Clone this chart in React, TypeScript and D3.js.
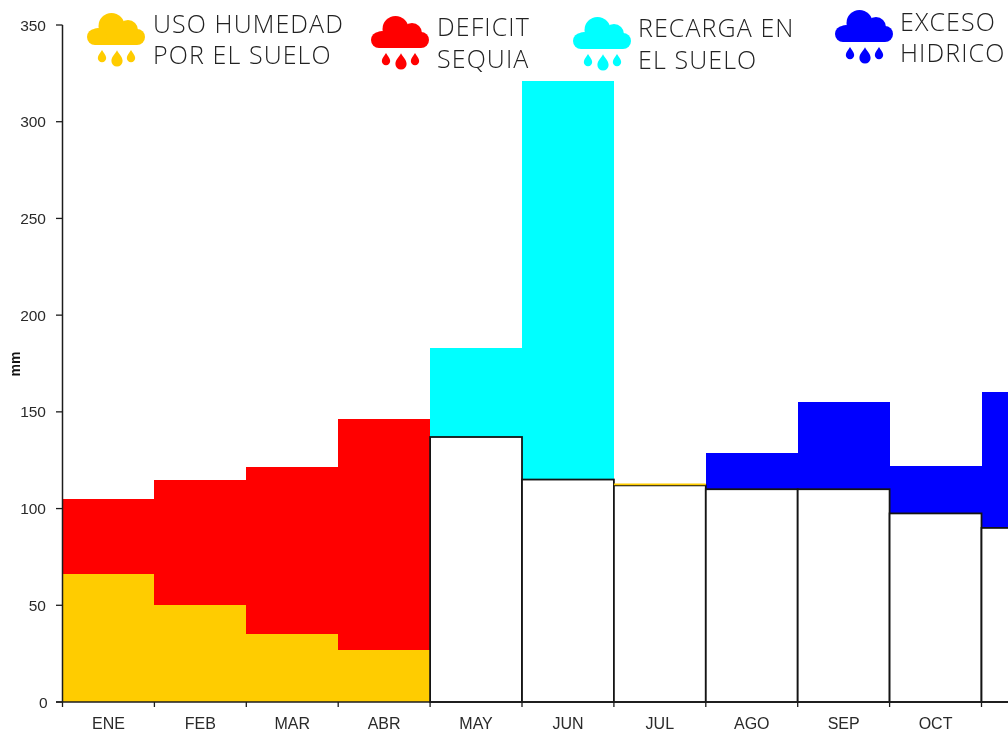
import React from "react";
import * as d3 from "d3";

const months = ["ENE", "FEB", "MAR", "ABR", "MAY", "JUN", "JUL", "AGO", "SEP", "OCT", "NOV"];
const storedValues = [66, 50, 35, 27, 137, 115, 112, 110, 110, 97.5, 90];
const upperValues = [105, 115, 121.5, 146.5, 183, 321, 112.5, 128.5, 155, 122, 160.5];
const stateNames = ["deficit", "deficit", "deficit", "deficit", "recarga", "recarga", "uso", "exceso", "exceso", "exceso", "exceso"];
const yTicks = [0, 50, 100, 150, 200, 250, 300, 350];
const legendKeys = ["uso", "deficit", "recarga", "exceso"];
const legendLines = [["USO HUMEDAD", "POR EL SUELO"], ["DEFICIT", "SEQUIA"], ["RECARGA EN", "EL SUELO"], ["EXCESO", "HIDRICO"]];

const colors: Record<string, string> = { uso: "#ffcc00", deficit: "#ff0000", recarga: "#00ffff", exceso: "#0000ff" };
const legendIcon = [[116, 13], [400, 16], [602, 17], [864, 10]];
const legendText = [[153, 33, 64], [437, 36, 68], [638, 37, 69], [900, 31, 62]];

const W = 1008;
const x = d3.scaleBand<number>().domain(d3.range(months.length)).range([62.5, 62.5 + 91.9 * months.length]);
const y = d3.scaleLinear().domain([0, 350]).range([702, 25]);

function Cloud({ cx, top, color }: { cx: number; top: number; color: string }) {
  const drop = (dx: number, dy: number, r: number) => {
    const c = cx + dx;
    const m = top + dy;
    return `M${c},${m - r * 1.9} C${c + r * 0.35},${m - r * 1.2} ${c + r},${m - r * 0.7} ${c + r},${m} A${r},${r} 0 1 1 ${c - r},${m} C${c - r},${m - r * 0.7} ${c - r * 0.35},${m - r * 1.2} ${c},${m - r * 1.9} Z`;
  };
  return (
    <g fill={color}>
      <circle cx={cx - 4.5} cy={top + 13} r={13} />
      <circle cx={cx + 12} cy={top + 17} r={10} />
      <rect x={cx - 29} y={top + 16} width={58} height={16} rx={8} />
      <circle cx={cx - 18} cy={top + 23.5} r={8.5} />
      <path d={drop(-14, 45, 4.2)} />
      <path d={drop(1, 48, 5.6)} />
      <path d={drop(15, 45, 4.2)} />
    </g>
  );
}

export default function App() {
  const sans = "'Liberation Sans', Arial, sans-serif";
  const axisColor = "#1c1c1c";
  return (
    <svg width={W} height={734} viewBox={`0 0 ${W} 734`} style={{ position: "absolute", left: 0, top: 0, background: "#fff", filter: "blur(0.3px)" }}>
      <g shapeRendering="crispEdges">
        {months.map((m, i) => (
          <g key={m}>
            <rect x={x(i)} y={y(upperValues[i])} width={x.bandwidth()} height={y(storedValues[i]) - y(upperValues[i])} fill={colors[stateNames[i]]} />
            {stateNames[i] === "deficit" && (
              <rect x={x(i)} y={y(storedValues[i])} width={x.bandwidth()} height={y(0) - y(storedValues[i])} fill={colors.uso} />
            )}
          </g>
        ))}
      </g>
      {months.map((m, i) =>
        stateNames[i] === "deficit" ? null : (
          <rect key={m} x={x(i)} y={y(storedValues[i])} width={x.bandwidth()} height={y(0) - y(storedValues[i])} fill="#fff" stroke="#141414" strokeWidth={1.8} />
        )
      )}
      <line x1={x(6)} x2={x(7)} y1={y(upperValues[6])} y2={y(upperValues[6])} stroke={colors.uso} strokeWidth={1.6} />

      <line x1={62.5} x2={62.5} y1={y(350)} y2={y(0)} stroke={axisColor} strokeWidth={1.5} />
      <line x1={56} x2={W} y1={y(0)} y2={y(0)} stroke={axisColor} strokeWidth={1.5} />
      {yTicks.map((t) => (
        <g key={t}>
          <line x1={56} x2={62.5} y1={y(t)} y2={y(t)} stroke={axisColor} strokeWidth={1.3} />
          <text x={t === 0 ? 47.5 : 46} y={y(t) + 5.5} textAnchor="end" fontFamily={sans} fontSize={15.5} fill="#2a2a2a">{t}</text>
        </g>
      ))}
      {months.map((m, i) => {
        const center = x(i)! + x.bandwidth() / 2;
        return (
          <g key={m}>
            <line x1={x(i)} x2={x(i)} y1={y(0)} y2={y(0) + 5} stroke={axisColor} strokeWidth={1.3} />
            {center + 16 < W && (
              <text x={center} y={728.5} textAnchor="middle" fontFamily={sans} fontSize={16} fill="#2a2a2a">{m}</text>
            )}
          </g>
        );
      })}
      <text transform="translate(20,364) rotate(-90)" textAnchor="middle" fontFamily={sans} fontSize={14} fontWeight="bold" fill="#111">mm</text>

      {legendKeys.map((k, i) => (
        <g key={k}>
          <Cloud cx={legendIcon[i][0]} top={legendIcon[i][1]} color={colors[k]} />
          {legendLines[i].map((line, j) => (
            <text key={line} x={legendText[i][0]} y={legendText[i][j + 1]} fontFamily="'Open Sans', sans-serif" fontWeight={300} fontSize={25} letterSpacing={1.1} fill="#222">{line}</text>
          ))}
        </g>
      ))}
    </svg>
  );
}
